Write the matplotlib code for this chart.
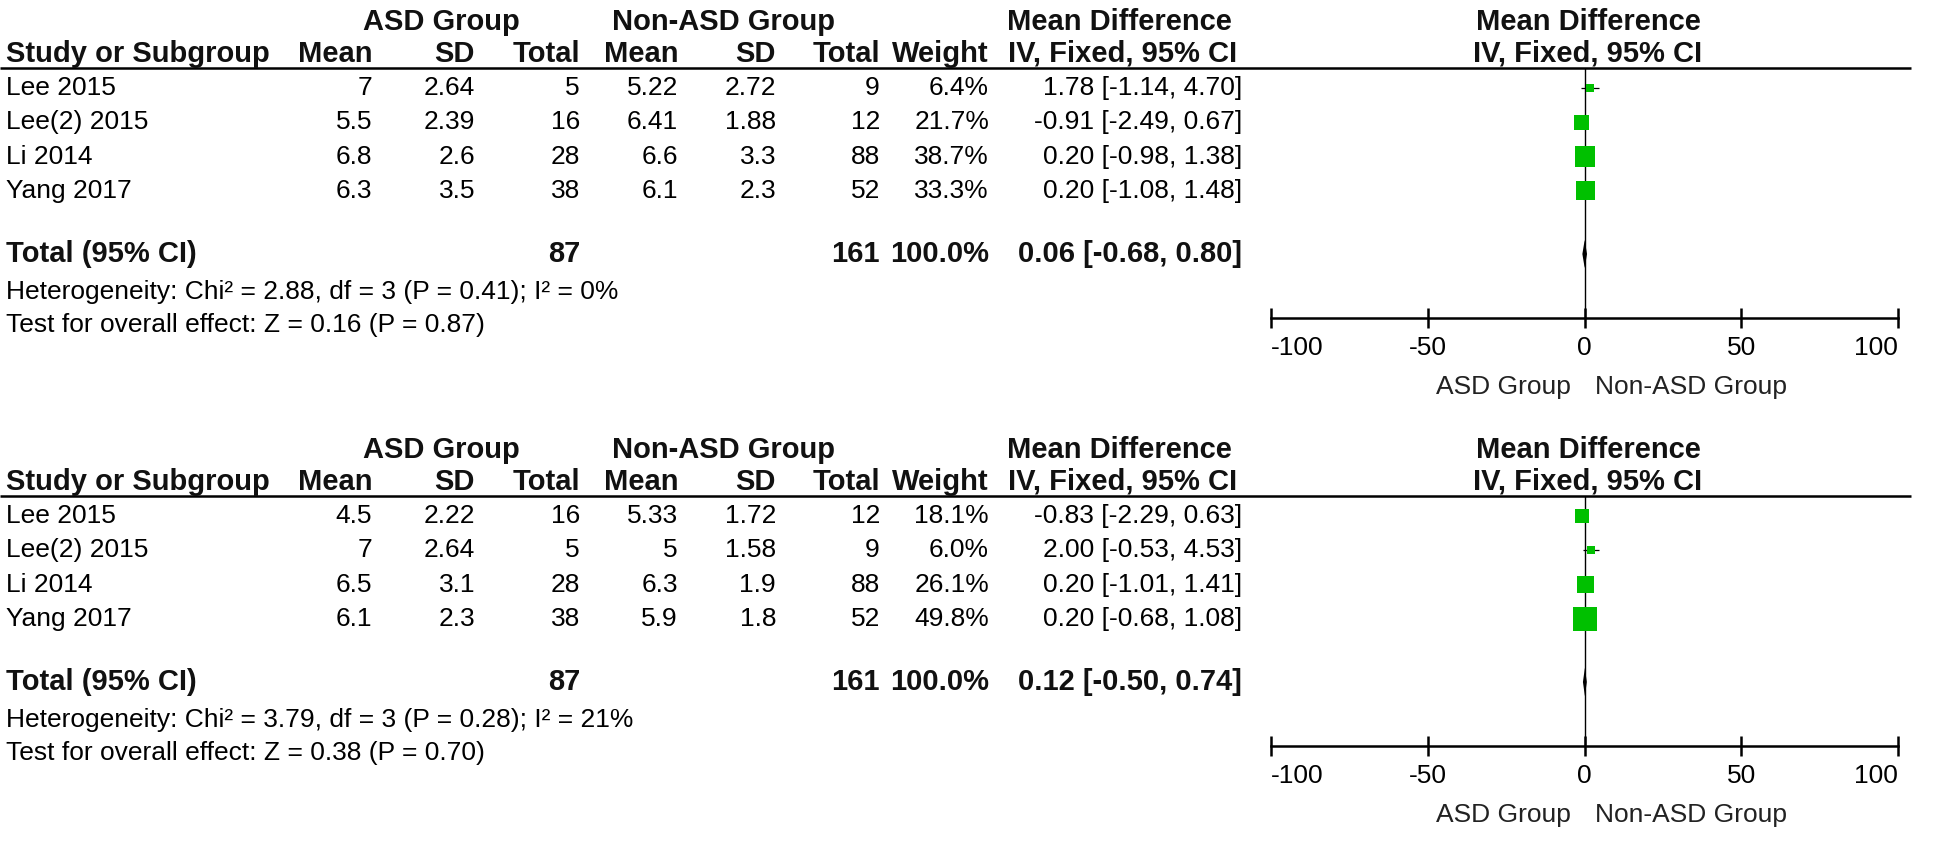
import matplotlib
matplotlib.use("Agg")
import matplotlib.pyplot as plt
import numpy as np

plt.rcParams['font.family'] = ['Liberation Sans', 'DejaVu Sans']

# study rows, same for both panels
studies = ["Lee 2015", "Lee(2) 2015", "Li 2014", "Yang 2017"]

# panel 1
asd_mean_1 = [7, 5.5, 6.8, 6.3]
asd_sd_1 = [2.64, 2.39, 2.6, 3.5]
asd_n_1 = [5, 16, 28, 38]
non_mean_1 = [5.22, 6.41, 6.6, 6.1]
non_sd_1 = [2.72, 1.88, 3.3, 2.3]
non_n_1 = [9, 12, 88, 52]
weight_1 = [6.4, 21.7, 38.7, 33.3]
md_1 = [1.78, -0.91, 0.20, 0.20]
lo_1 = [-1.14, -2.49, -0.98, -1.08]
hi_1 = [4.70, 0.67, 1.38, 1.48]
total_1 = {"n_asd": 87, "n_non": 161, "weight": 100.0, "md": 0.06, "lo": -0.68, "hi": 0.80}
het_1 = "Heterogeneity: Chi² = 2.88, df = 3 (P = 0.41); I² = 0%"
test_1 = "Test for overall effect: Z = 0.16 (P = 0.87)"

# panel 2
asd_mean_2 = [4.5, 7, 6.5, 6.1]
asd_sd_2 = [2.22, 2.64, 3.1, 2.3]
asd_n_2 = [16, 5, 28, 38]
non_mean_2 = [5.33, 5, 6.3, 5.9]
non_sd_2 = [1.72, 1.58, 1.9, 1.8]
non_n_2 = [12, 9, 88, 52]
weight_2 = [18.1, 6.0, 26.1, 49.8]
md_2 = [-0.83, 2.00, 0.20, 0.20]
lo_2 = [-2.29, -0.53, -1.01, -0.68]
hi_2 = [0.63, 4.53, 1.41, 1.08]
total_2 = {"n_asd": 87, "n_non": 161, "weight": 100.0, "md": 0.12, "lo": -0.50, "hi": 0.74}
het_2 = "Heterogeneity: Chi² = 3.79, df = 3 (P = 0.28); I² = 21%"
test_2 = "Test for overall effect: Z = 0.38 (P = 0.70)"

x_ticks = [-100, -50, 0, 50, 100]
tick_labels = ["-100", "-50", "0", "50", "100"]

W, H = 1946, 864
FS = 19
FS_B = 21
GREEN = "#00c000"

# column right edges (px)
col_right = [372, 475, 580, 678, 776, 880, 989, 1242]
forest_left, forest_right = 1271, 1898
LEFT = 6


def fmt_ci(md, lo, hi):
    return "{:.2f} [{:.2f}, {:.2f}]".format(md, lo, hi)


def draw_panel(fig, bg, off, data):
    (asd_mean, asd_sd, asd_n, non_mean, non_sd, non_n,
     weight, md, lo, hi, total, het, test) = data

    h1, h2, line_y = 22 + off, 54 + off, 68 + off
    rows = [88 + off + 34.3 * i for i in range(len(studies))]
    total_y, het_y, test_y = 254 + off, 292 + off, 325 + off
    axis_y = 318 + off

    bold = dict(fontsize=FS_B, fontweight="bold", color="#111111", va="center")
    reg = dict(fontsize=FS, color="black", va="center")

    # header
    bg.text(441, h1, "ASD Group", ha="center", **bold)
    bg.text(724, h1, "Non-ASD Group", ha="center", **bold)
    bg.text(1119, h1, "Mean Difference", ha="center", **bold)
    bg.text(1588, h1, "Mean Difference", ha="center", **bold)
    bg.text(LEFT, h2, "Study or Subgroup", ha="left", **bold)
    heads = ["Mean", "SD", "Total", "Mean", "SD", "Total", "Weight"]
    for x, t in zip(col_right, heads):
        bg.text(x, h2, t, ha="right", **bold)
    bg.text(1123, h2, "IV, Fixed, 95% CI", ha="center", **bold)
    bg.text(1588, h2, "IV, Fixed, 95% CI", ha="center", **bold)
    bg.hlines(line_y, 0, 1911, color="black", lw=1.8)

    # study rows
    for i, y in enumerate(rows):
        bg.text(LEFT, y, studies[i], ha="left", **reg)
        vals = ["{:g}".format(asd_mean[i]), "{:g}".format(asd_sd[i]), str(asd_n[i]),
                "{:g}".format(non_mean[i]), "{:g}".format(non_sd[i]), str(non_n[i]),
                "{:.1f}%".format(weight[i]), fmt_ci(md[i], lo[i], hi[i])]
        for x, t in zip(col_right, vals):
            bg.text(x, y, t, ha="right", **reg)

    # total rows
    bg.text(LEFT, total_y, "Total (95% CI)", ha="left", **bold)
    bg.text(col_right[2], total_y, str(total["n_asd"]), ha="right", **bold)
    bg.text(col_right[5], total_y, str(total["n_non"]), ha="right", **bold)
    bg.text(col_right[6], total_y, "{:.1f}%".format(total["weight"]), ha="right", **bold)
    bg.text(col_right[7], total_y, fmt_ci(total["md"], total["lo"], total["hi"]),
            ha="right", **bold)
    bg.text(LEFT, het_y, het, ha="left", **reg)
    bg.text(LEFT, test_y, test, ha="left", **reg)

    # forest plot axes, y in figure pixels from top
    ax = fig.add_axes([forest_left / W, (H - axis_y) / H,
                       (forest_right - forest_left) / W, (axis_y - line_y) / H])
    ax.set_xlim(-100, 100)
    ax.set_ylim(axis_y, line_y)
    ax.patch.set_alpha(0)
    for s in ["top", "left", "right"]:
        ax.spines[s].set_visible(False)
    ax.spines["bottom"].set_linewidth(1.8)
    ax.set_yticks([])
    ax.set_xticks(x_ticks)
    ax.set_xticklabels([])
    ax.tick_params(axis="x", direction="inout", length=14, width=1.8)

    ax.axvline(0, color="black", lw=1.0, zorder=1)
    ax.hlines(rows, lo, hi, color="black", lw=0.9, zorder=2)
    sizes = [(3.3 * 0.72) ** 2 * w for w in weight]
    ax.scatter(md, rows, s=sizes, marker="s", color=GREEN, linewidths=0, zorder=3)

    # pooled diamond
    dx = [total["lo"], total["md"], total["hi"], total["md"]]
    dy = [total_y, total_y - 14, total_y, total_y + 14]
    ax.fill(dx, dy, color="black", lw=0, zorder=4, clip_on=False)

    has = ["left", "center", "center", "center", "right"]
    for x, t, ha in zip(x_ticks, tick_labels, has):
        ax.text(x, axis_y + 30, t, ha=ha, va="center", fontsize=FS, clip_on=False)
    ax.text(-4.5, axis_y + 69, "ASD Group", ha="right", va="center",
            fontsize=FS, color="#222222", clip_on=False)
    ax.text(3.5, axis_y + 69, "Non-ASD Group", ha="left", va="center",
            fontsize=FS, color="#222222", clip_on=False)


def main():
    fig = plt.figure(figsize=(W / 100, H / 100), dpi=100)
    bg = fig.add_axes([0, 0, 1, 1])
    bg.set_xlim(0, W)
    bg.set_ylim(H, 0)
    bg.axis("off")

    draw_panel(fig, bg, 0, (asd_mean_1, asd_sd_1, asd_n_1, non_mean_1, non_sd_1,
                            non_n_1, weight_1, md_1, lo_1, hi_1, total_1, het_1, test_1))
    draw_panel(fig, bg, 428, (asd_mean_2, asd_sd_2, asd_n_2, non_mean_2, non_sd_2,
                              non_n_2, weight_2, md_2, lo_2, hi_2, total_2, het_2, test_2))

    fig.savefig("out.png", dpi=100, facecolor="white")


if __name__ == '__main__':
    main()
